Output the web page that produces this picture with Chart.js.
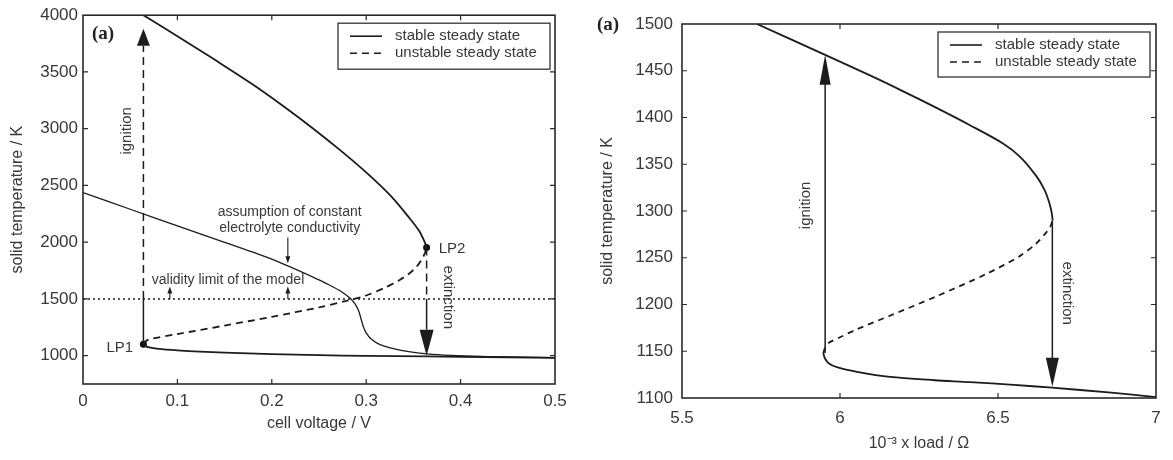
<!DOCTYPE html>
<html>
<head>
<meta charset="utf-8">
<script src="https://cdn.jsdelivr.net/npm/chart.js@4.4.0/dist/chart.umd.min.js"></script>
<style>
  body { margin: 0; background: #fff; }
  #leftChart { position: absolute; left: 0; top: 0; }
  #rightChart { position: absolute; left: 586px; top: 0; }
</style>
</head>
<body>
<canvas id="leftChart" width="586" height="460"></canvas>
<canvas id="rightChart" width="587" height="460"></canvas>
<script>
// left panel: temperature vs cell voltage
const voltTicks = [0, 0.1, 0.2, 0.3, 0.4, 0.5]
const tempTicksA = [1000, 1500, 2000, 2500, 3000, 3500, 4000]

const upperV = [0.064, 0.103, 0.141, 0.178, 0.212, 0.244, 0.274, 0.302, 0.327, 0.347, 0.356, 0.362, 0.364]
const upperT = [4000, 3800, 3600, 3400, 3200, 3000, 2800, 2600, 2400, 2200, 2100, 2000, 1953]
const unstableV = [0.064, 0.066, 0.070, 0.10, 0.15, 0.20, 0.25, 0.28, 0.30, 0.32, 0.335, 0.345, 0.353, 0.359, 0.3625, 0.364]
const unstableT = [1101, 1125, 1143, 1190, 1265, 1342, 1425, 1485, 1530, 1600, 1665, 1720, 1780, 1850, 1910, 1953]
const lowerV = [0.064, 0.066, 0.07, 0.08, 0.10, 0.124, 0.15, 0.20, 0.25, 0.30, 0.364, 0.40, 0.50]
const lowerT = [1101, 1085, 1072, 1060, 1047, 1035, 1026, 1013, 1004, 998, 993, 990, 981]
const constCondV = [0, 0.05, 0.10, 0.15, 0.20, 0.25, 0.265, 0.275, 0.283, 0.288, 0.292, 0.2945, 0.297, 0.30, 0.305, 0.312, 0.32, 0.33, 0.345, 0.364, 0.39, 0.42, 0.46, 0.50]
const constCondT = [2437, 2290, 2143, 1998, 1850, 1668, 1605, 1557, 1505, 1458, 1395, 1325, 1255, 1200, 1148, 1108, 1082, 1060, 1035, 1016, 1002, 993, 986, 982]
const limitPointsV = [0.064, 0.364]
const limitPointsT = [1101, 1953]
const validityT = 1500

// right panel: temperature vs load
const loadTicks = [5.5, 6, 6.5, 7]
const tempTicksB = [1100, 1150, 1200, 1250, 1300, 1350, 1400, 1450, 1500]

const upperL = [5.737, 5.953, 6.095, 6.2, 6.307, 6.41, 6.517, 6.57, 6.622, 6.648, 6.663, 6.67, 6.673]
const upperLT = [1500, 1467, 1445, 1428, 1410, 1392, 1372, 1358, 1337, 1322, 1308, 1298, 1290]
const unstableL = [5.947, 5.952, 5.965, 6.0, 6.05, 6.158, 6.307, 6.465, 6.57, 6.62, 6.65, 6.665, 6.673]
const unstableLT = [1148, 1153, 1159, 1165, 1173, 1188, 1209, 1233, 1252, 1265, 1276, 1283, 1290]
const lowerL = [5.947, 5.953, 5.965, 5.99, 6.054, 6.158, 6.3, 6.411, 6.55, 6.671, 6.85, 7.0]
const lowerLT = [1148, 1142, 1137, 1133, 1128, 1122.5, 1119, 1117, 1114, 1111, 1106, 1101]

const FONT = 'Liberation Sans'
const INK = '#1c1c1c'
const TXT = '#383838'

function pts(xs, ys) {
    return xs.map((x, i) => ({x: x, y: ys[i]}))
}

function curve(label, xs, ys, width, dash) {
    return {
        label: label,
        data: pts(xs, ys),
        showLine: true,
        borderColor: INK,
        borderWidth: width,
        borderDash: dash || [],
        pointRadius: 0,
        tension: 0.3,
        fill: false
    }
}

function P(chart, x, y) {
    return [chart.scales.x.getPixelForValue(x), chart.scales.y.getPixelForValue(y)]
}

function vline(ctx, x, y0, y1, dash) {
    ctx.save()
    ctx.setLineDash(dash || [])
    ctx.beginPath()
    ctx.moveTo(x, y0)
    ctx.lineTo(x, y1)
    ctx.stroke()
    ctx.restore()
}

// filled triangle, tip at (x, y), dir = -1 points up, +1 points down
function head(ctx, x, y, dir, hw, hh) {
    ctx.beginPath()
    ctx.moveTo(x, y)
    ctx.lineTo(x - hw, y - dir * hh)
    ctx.lineTo(x + hw, y - dir * hh)
    ctx.closePath()
    ctx.fill()
}

function rtext(ctx, s, x, y, angle) {
    ctx.save()
    ctx.translate(x, y)
    ctx.rotate(angle)
    ctx.textAlign = 'center'
    ctx.textBaseline = 'middle'
    ctx.fillText(s, 0, 0)
    ctx.restore()
}

// box round the plot with inward ticks on all four sides
const framePlugin = {
    id: 'frame',
    afterDatasetsDraw(chart) {
        const {ctx, chartArea: a, scales} = chart
        ctx.save()
        ctx.strokeStyle = '#2a2a2a'
        ctx.lineWidth = 1.2
        ctx.beginPath()
        scales.x.ticks.forEach(t => {
            const x = scales.x.getPixelForValue(t.value)
            if (x <= a.left + 1 || x >= a.right - 1) return
            ctx.moveTo(x, a.bottom); ctx.lineTo(x, a.bottom - 5)
            ctx.moveTo(x, a.top); ctx.lineTo(x, a.top + 5)
        })
        scales.y.ticks.forEach(t => {
            const y = scales.y.getPixelForValue(t.value)
            if (y <= a.top + 1 || y >= a.bottom - 1) return
            ctx.moveTo(a.left, y); ctx.lineTo(a.left + 5, y)
            ctx.moveTo(a.right, y); ctx.lineTo(a.right - 5, y)
        })
        ctx.stroke()
        ctx.lineWidth = 1.6
        ctx.strokeRect(a.left, a.top, a.right - a.left, a.bottom - a.top)
        ctx.restore()
    }
}

function drawLegend(ctx, left, top, w, h) {
    ctx.save()
    ctx.fillStyle = '#fff'
    ctx.fillRect(left, top, w, h)
    ctx.strokeStyle = '#333'
    ctx.lineWidth = 1.3
    ctx.strokeRect(left, top, w, h)
    ctx.strokeStyle = INK
    ctx.lineWidth = 1.6
    const r1 = top + 13, r2 = top + 30
    ctx.beginPath(); ctx.moveTo(left + 12, r1); ctx.lineTo(left + 44, r1); ctx.stroke()
    ctx.setLineDash([7, 5])
    ctx.beginPath(); ctx.moveTo(left + 12, r2); ctx.lineTo(left + 46, r2); ctx.stroke()
    ctx.setLineDash([])
    ctx.fillStyle = TXT
    ctx.font = '15px ' + FONT
    ctx.textBaseline = 'middle'
    ctx.fillText('stable steady state', left + 57, r1)
    ctx.fillText('unstable steady state', left + 57, r2)
    ctx.restore()
}

const notesLeft = {
    id: 'notesLeft',
    afterDraw(chart) {
        const ctx = chart.ctx
        const a = chart.chartArea
        ctx.save()
        ctx.strokeStyle = INK
        ctx.fillStyle = INK
        ctx.lineWidth = 1.5

        // ignition: solid up to the validity limit, dashed above
        let [x0, yLP1] = P(chart, limitPointsV[0], limitPointsT[0])
        let yLim = P(chart, 0, validityT)[1]
        let yTip = P(chart, 0, 3880)[1]
        vline(ctx, x0, yLP1, yLim)
        vline(ctx, x0, yLim, yTip + 17, [8, 5])
        head(ctx, x0, yTip, -1, 6.5, 17)

        // extinction: dashed down to the validity limit, solid below
        let [x1, yLP2] = P(chart, limitPointsV[1], limitPointsT[1])
        let yEnd = P(chart, 0, 1000)[1]
        vline(ctx, x1, yLP2, yLim, [8, 5])
        vline(ctx, x1, yLim, yEnd - 26)
        head(ctx, x1, yEnd, 1, 7, 26)

        // small pointer arrows
        ctx.lineWidth = 1.1
        let [xc, yc] = P(chart, 0.217, 1813)
        let yc0 = P(chart, 0, 2042)[1]
        vline(ctx, xc, yc0, yc - 6)
        head(ctx, xc, yc, 1, 2.5, 7)
        ;[0.092, 0.217].forEach(v => {
            const [xv, yv] = P(chart, v, 1610)
            vline(ctx, xv, yLim, yv + 6)
            head(ctx, xv, yv, -1, 2.5, 7)
        })

        // texts
        ctx.fillStyle = TXT
        ctx.font = '15px ' + FONT
        let p = P(chart, 0.0466, 2981)
        rtext(ctx, 'ignition', p[0], p[1], -Math.PI / 2)
        p = P(chart, 0.387, 1514)
        rtext(ctx, 'extinction', p[0], p[1], Math.PI / 2)
        p = P(chart, 0.039, 1070)
        rtext(ctx, 'LP1', p[0], p[1], 0)
        p = P(chart, 0.391, 1945)
        rtext(ctx, 'LP2', p[0], p[1], 0)
        ctx.font = '14px ' + FONT
        p = P(chart, 0.219, 2261)
        rtext(ctx, 'assumption of constant', p[0], p[1], 0)
        p = P(chart, 0.219, 2120)
        rtext(ctx, 'electrolyte conductivity', p[0], p[1], 0)
        p = P(chart, 0.1536, 1663)
        rtext(ctx, 'validity limit of the model', p[0], p[1], 0)

        ctx.fillStyle = '#222'
        ctx.font = 'bold 19px "Liberation Serif"'
        ctx.textBaseline = 'middle'
        ctx.fillText('(a)', a.left + 9, a.top + 19)
        ctx.restore()

        drawLegend(ctx, a.left + 255, a.top + 8, 212, 46)
    }
}

const notesRight = {
    id: 'notesRight',
    afterDraw(chart) {
        const ctx = chart.ctx
        const a = chart.chartArea
        ctx.save()
        ctx.strokeStyle = INK
        ctx.fillStyle = INK
        ctx.lineWidth = 1.5

        let [x0, y0] = P(chart, 5.953, 1148)
        let yTip = P(chart, 0, 1467)[1]
        vline(ctx, x0, y0, yTip + 28)
        head(ctx, x0, yTip, -1, 5.5, 30)

        let [x1, y1] = P(chart, 6.672, 1290)
        let yEnd = P(chart, 0, 1112)[1]
        vline(ctx, x1, y1, yEnd - 28)
        head(ctx, x1, yEnd, 1, 6.5, 29)

        ctx.fillStyle = TXT
        ctx.font = '15px ' + FONT
        let p = P(chart, 5.892, 1306)
        rtext(ctx, 'ignition', p[0], p[1], -Math.PI / 2)
        p = P(chart, 6.718, 1212)
        rtext(ctx, 'extinction', p[0], p[1], Math.PI / 2)

        ctx.fillStyle = '#222'
        ctx.font = 'bold 19px "Liberation Serif"'
        ctx.textBaseline = 'middle'
        ctx.fillText('(a)', 11, a.top + 1)
        ctx.restore()

        drawLegend(ctx, a.left + 256, a.top + 8, 212, 45)
    }
}

function axisX(min, max, tickVals, title, height, tickPad, titlePad) {
    return {
        type: 'linear', min: min, max: max,
        afterBuildTicks: s => { s.ticks = tickVals.map(v => ({value: v})) },
        afterFit: s => { s.height = height },
        grid: {display: false, drawTicks: false},
        border: {display: false},
        ticks: {color: TXT, padding: tickPad, maxRotation: 0, font: {family: FONT, size: 17},
                callback: v => String(v)},
        title: {display: true, text: title, color: TXT, font: {family: FONT, size: 16},
                padding: {top: 0, bottom: titlePad}}
    }
}

function axisY(min, max, tickVals, width, tickPad, titlePad) {
    return {
        type: 'linear', min: min, max: max,
        afterBuildTicks: s => { s.ticks = tickVals.map(v => ({value: v})) },
        afterFit: s => { s.width = width },
        grid: {display: false, drawTicks: false},
        border: {display: false},
        ticks: {color: TXT, padding: tickPad, font: {family: FONT, size: 17},
                callback: v => String(v)},
        title: {display: true, text: 'solid temperature / K', color: TXT, font: {family: FONT, size: 16},
                padding: {top: titlePad, bottom: 0}}
    }
}

const leftConfig = {
    type: 'scatter',
    data: {
        datasets: [
            curve('constant conductivity', constCondV, constCondT, 1.3),
            {
                label: 'validity limit',
                data: pts([0, 0.5], [validityT, validityT]),
                showLine: true, borderColor: INK, borderWidth: 1.5,
                borderDash: [2, 3], pointRadius: 0
            },
            curve('stable steady state', upperV, upperT, 1.8),
            curve('stable steady state', lowerV, lowerT, 1.8),
            curve('unstable steady state', unstableV, unstableT, 1.8, [7, 5]),
            {
                label: 'limit points',
                data: pts(limitPointsV, limitPointsT),
                showLine: false, pointRadius: 3.5, pointBackgroundColor: '#111', pointBorderWidth: 0
            }
        ]
    },
    options: {
        responsive: false,
        animation: false,
        layout: {padding: {top: 14, right: 31, left: 0, bottom: 0}},
        plugins: {legend: {display: false}, tooltip: {enabled: false}},
        scales: {
            x: axisX(0, 0.5, voltTicks, 'cell voltage / V', 76, 7, 27),
            y: axisY(750, 4000, tempTicksA, 83, 5, 8)
        }
    },
    plugins: [framePlugin, notesLeft]
}

const rightConfig = {
    type: 'scatter',
    data: {
        datasets: [
            curve('stable steady state', upperL, upperLT, 1.8),
            curve('stable steady state', lowerL, lowerLT, 1.8),
            curve('unstable steady state', unstableL, unstableLT, 1.8, [6, 5])
        ]
    },
    options: {
        responsive: false,
        animation: false,
        layout: {padding: {top: 24, right: 17, left: 0, bottom: 0}},
        plugins: {legend: {display: false}, tooltip: {enabled: false}},
        scales: {
            x: axisX(5.5, 7, loadTicks, '10\u207B\u00B3 x load / \u03A9', 62, 10, 7),
            y: axisY(1100, 1500, tempTicksB, 96, 9, 12)
        }
    },
    plugins: [framePlugin, notesRight]
}

new Chart(document.getElementById('leftChart'), leftConfig)
new Chart(document.getElementById('rightChart'), rightConfig)
</script>
</body>
</html>
